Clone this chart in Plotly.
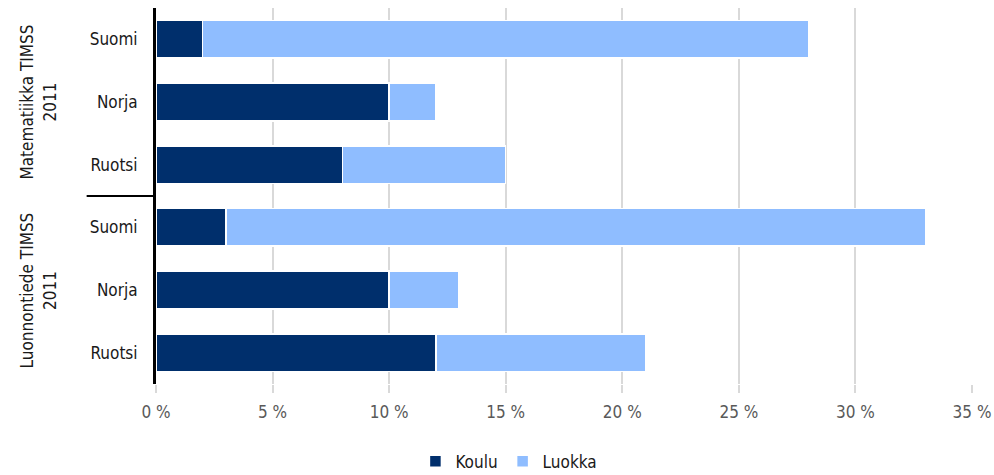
import plotly.graph_objects as go

countries = ["Suomi", "Norja", "Ruotsi", "Suomi", "Norja", "Ruotsi"]
groups = ["Matematiikka TIMSS<br>2011", "Luonnontiede TIMSS<br>2011"]
koulu = [2, 10, 8, 3, 10, 12]
luokka = [26, 2, 7, 30, 3, 9]
xticks = [0, 5, 10, 15, 20, 25, 30, 35]
xticklabels = ["0 %", "5 %", "10 %", "15 %", "20 %", "25 %", "30 %", "35 %"]

FONT = "DejaVu Sans Condensed, Liberation Sans Narrow, sans-serif"
ypos = list(range(len(countries)))

fig = go.Figure()
fig.add_trace(go.Bar(y=ypos, x=koulu, orientation="h", name="Koulu",
                     marker=dict(color="#002F6C", line=dict(color="white", width=1.5)), width=0.6))
fig.add_trace(go.Bar(y=ypos, x=luokka, orientation="h", name="Luokka",
                     marker=dict(color="#8FBDFF", line=dict(color="white", width=1.5)), width=0.6))

fig.update_layout(
    barmode="stack",
    width=994, height=475,
    margin=dict(l=156, r=22, t=8, b=91, autoexpand=False),
    plot_bgcolor="white", paper_bgcolor="white",
    font=dict(family=FONT, size=17, color="#1a1a1a"),
    showlegend=True,
    legend=dict(orientation="h", xref="container", yref="container", x=0.512, xanchor="center",
                y=0.028, yanchor="middle", font=dict(size=17, color="#1a1a1a"),
                itemwidth=30, traceorder="normal"),
    bargap=0.4,
)
fig.update_xaxes(range=[0, 35], tickmode="array", tickvals=xticks, ticktext=xticklabels,
                 showgrid=True, gridcolor="#d9d9d9", gridwidth=1.5,
                 ticks="outside", ticklen=8, tickcolor="#d9d9d9", tickwidth=2,
                 tickfont=dict(color="#595959", size=17), zeroline=False,
                 ticklabelstandoff=5, automargin=False)
fig.update_yaxes(range=[5.5, -0.5], tickmode="array", tickvals=ypos, ticktext=countries,
                 showline=True, linecolor="black", linewidth=3, ticks="",
                 tickfont=dict(color="#1a1a1a", size=17), ticklabelstandoff=12,
                 showgrid=False, zeroline=False, automargin=False)

# group separator
fig.add_shape(type="line", xref="paper", yref="y", x0=-0.085, x1=0, y0=2.5, y1=2.5,
              line=dict(color="black", width=2))
for i, g in enumerate(groups):
    fig.add_annotation(text=g, xref="paper", yref="y", x=-0.144, y=1 + 3 * i,
                       textangle=-90, showarrow=False, xanchor="center", yanchor="middle",
                       font=dict(family=FONT, size=17, color="#1a1a1a"))

fig.write_html("out.html", config={"displayModeBar": False},
               post_script="document.body.style.margin='0';document.body.style.overflow='hidden';")
